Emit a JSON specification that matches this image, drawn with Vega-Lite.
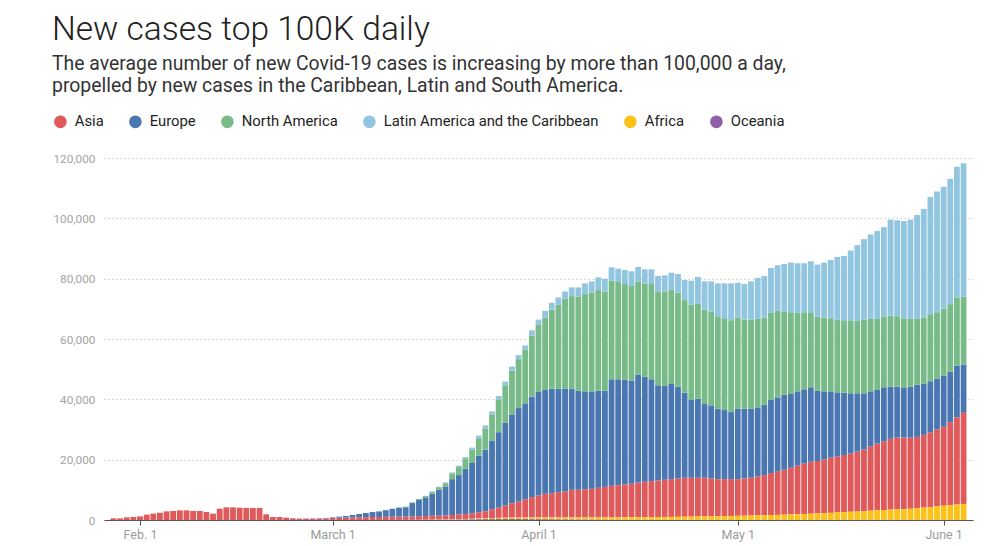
{
"$schema": "https://vega.github.io/schema/vega-lite/v6.json",
"width": 869, "height": 362,
"autosize": {"type": "none"},
"padding": {"left": 104, "top": 158, "right": 15, "bottom": 26},
"background": "white",
"title": {
 "text": "New cases top 100K daily",
 "subtitle": ["The average number of new Covid-19 cases is increasing by more than 100,000 a day,", "propelled by new cases in the Caribbean, Latin and South America."],
 "anchor": "start", "frame": "group", "dx": -52,
 "font": "Roboto", "fontSize": 33.5, "fontWeight": 300, "color": "#222222",
 "subtitleFont": "Roboto", "subtitleFontSize": 19.4, "subtitleColor": "#333333", "subtitleLineHeight": 22, "subtitlePadding": 7,
 "offset": 18
},
"data": {"format": {"parse": {"date": "date:'%Y-%m-%d'"}}, "values": [
{"date":"2020-01-28","Asia":550,"Europe":0,"North America":0,"Latin America and the Caribbean":0,"Africa":0,"Oceania":0},
{"date":"2020-01-29","Asia":550,"Europe":0,"North America":0,"Latin America and the Caribbean":0,"Africa":0,"Oceania":0},
{"date":"2020-01-30","Asia":880,"Europe":0,"North America":0,"Latin America and the Caribbean":0,"Africa":0,"Oceania":0},
{"date":"2020-01-31","Asia":1000,"Europe":0,"North America":0,"Latin America and the Caribbean":0,"Africa":0,"Oceania":0},
{"date":"2020-02-01","Asia":1200,"Europe":0,"North America":0,"Latin America and the Caribbean":0,"Africa":0,"Oceania":0},
{"date":"2020-02-02","Asia":1770,"Europe":0,"North America":0,"Latin America and the Caribbean":0,"Africa":0,"Oceania":0},
{"date":"2020-02-03","Asia":2100,"Europe":0,"North America":0,"Latin America and the Caribbean":0,"Africa":0,"Oceania":0},
{"date":"2020-02-04","Asia":2400,"Europe":0,"North America":0,"Latin America and the Caribbean":0,"Africa":0,"Oceania":0},
{"date":"2020-02-05","Asia":2870,"Europe":0,"North America":0,"Latin America and the Caribbean":0,"Africa":0,"Oceania":0},
{"date":"2020-02-06","Asia":3000,"Europe":0,"North America":0,"Latin America and the Caribbean":0,"Africa":0,"Oceania":0},
{"date":"2020-02-07","Asia":3200,"Europe":0,"North America":0,"Latin America and the Caribbean":0,"Africa":0,"Oceania":0},
{"date":"2020-02-08","Asia":3200,"Europe":0,"North America":0,"Latin America and the Caribbean":0,"Africa":0,"Oceania":0},
{"date":"2020-02-09","Asia":3000,"Europe":0,"North America":0,"Latin America and the Caribbean":0,"Africa":0,"Oceania":0},
{"date":"2020-02-10","Asia":3000,"Europe":0,"North America":0,"Latin America and the Caribbean":0,"Africa":0,"Oceania":0},
{"date":"2020-02-11","Asia":2650,"Europe":0,"North America":0,"Latin America and the Caribbean":0,"Africa":0,"Oceania":0},
{"date":"2020-02-12","Asia":2100,"Europe":0,"North America":0,"Latin America and the Caribbean":0,"Africa":0,"Oceania":0},
{"date":"2020-02-13","Asia":3760,"Europe":0,"North America":0,"Latin America and the Caribbean":0,"Africa":0,"Oceania":0},
{"date":"2020-02-14","Asia":4200,"Europe":0,"North America":0,"Latin America and the Caribbean":0,"Africa":0,"Oceania":0},
{"date":"2020-02-15","Asia":4200,"Europe":0,"North America":0,"Latin America and the Caribbean":0,"Africa":0,"Oceania":0},
{"date":"2020-02-16","Asia":4100,"Europe":0,"North America":0,"Latin America and the Caribbean":0,"Africa":0,"Oceania":0},
{"date":"2020-02-17","Asia":4000,"Europe":0,"North America":0,"Latin America and the Caribbean":0,"Africa":0,"Oceania":0},
{"date":"2020-02-18","Asia":4000,"Europe":0,"North America":0,"Latin America and the Caribbean":0,"Africa":0,"Oceania":0},
{"date":"2020-02-19","Asia":4000,"Europe":0,"North America":0,"Latin America and the Caribbean":0,"Africa":0,"Oceania":0},
{"date":"2020-02-20","Asia":1880,"Europe":0,"North America":0,"Latin America and the Caribbean":0,"Africa":0,"Oceania":0},
{"date":"2020-02-21","Asia":1000,"Europe":0,"North America":0,"Latin America and the Caribbean":0,"Africa":0,"Oceania":0},
{"date":"2020-02-22","Asia":1000,"Europe":0,"North America":0,"Latin America and the Caribbean":0,"Africa":0,"Oceania":0},
{"date":"2020-02-23","Asia":770,"Europe":0,"North America":0,"Latin America and the Caribbean":0,"Africa":0,"Oceania":0},
{"date":"2020-02-24","Asia":550,"Europe":20,"North America":0,"Latin America and the Caribbean":0,"Africa":0,"Oceania":0},
{"date":"2020-02-25","Asia":440,"Europe":40,"North America":0,"Latin America and the Caribbean":0,"Africa":0,"Oceania":0},
{"date":"2020-02-26","Asia":420,"Europe":60,"North America":0,"Latin America and the Caribbean":0,"Africa":0,"Oceania":0},
{"date":"2020-02-27","Asia":430,"Europe":80,"North America":0,"Latin America and the Caribbean":0,"Africa":0,"Oceania":0},
{"date":"2020-02-28","Asia":450,"Europe":110,"North America":0,"Latin America and the Caribbean":0,"Africa":0,"Oceania":0},
{"date":"2020-02-29","Asia":500,"Europe":150,"North America":0,"Latin America and the Caribbean":0,"Africa":0,"Oceania":0},
{"date":"2020-03-01","Asia":700,"Europe":190,"North America":0,"Latin America and the Caribbean":0,"Africa":0,"Oceania":0},
{"date":"2020-03-02","Asia":750,"Europe":360,"North America":0,"Latin America and the Caribbean":0,"Africa":0,"Oceania":0},
{"date":"2020-03-03","Asia":800,"Europe":530,"North America":0,"Latin America and the Caribbean":0,"Africa":0,"Oceania":0},
{"date":"2020-03-04","Asia":850,"Europe":810,"North America":10,"Latin America and the Caribbean":0,"Africa":0,"Oceania":0},
{"date":"2020-03-05","Asia":900,"Europe":1085,"North America":15,"Latin America and the Caribbean":0,"Africa":0,"Oceania":0},
{"date":"2020-03-06","Asia":950,"Europe":1355,"North America":25,"Latin America and the Caribbean":0,"Africa":0,"Oceania":0},
{"date":"2020-03-07","Asia":1000,"Europe":1635,"North America":35,"Latin America and the Caribbean":0,"Africa":0,"Oceania":0},
{"date":"2020-03-08","Asia":1000,"Europe":1840,"North America":50,"Latin America and the Caribbean":0,"Africa":0,"Oceania":5},
{"date":"2020-03-09","Asia":1050,"Europe":2210,"North America":70,"Latin America and the Caribbean":0,"Africa":0,"Oceania":8},
{"date":"2020-03-10","Asia":1100,"Europe":2570,"North America":100,"Latin America and the Caribbean":0,"Africa":0,"Oceania":10},
{"date":"2020-03-11","Asia":1100,"Europe":2960,"North America":140,"Latin America and the Caribbean":5,"Africa":5,"Oceania":10},
{"date":"2020-03-12","Asia":1100,"Europe":3110,"North America":190,"Latin America and the Caribbean":10,"Africa":10,"Oceania":15},
{"date":"2020-03-13","Asia":1150,"Europe":4420,"North America":250,"Latin America and the Caribbean":30,"Africa":20,"Oceania":20},
{"date":"2020-03-14","Asia":1200,"Europe":5370,"North America":330,"Latin America and the Caribbean":40,"Africa":30,"Oceania":30},
{"date":"2020-03-15","Asia":1250,"Europe":6160,"North America":450,"Latin America and the Caribbean":60,"Africa":40,"Oceania":40},
{"date":"2020-03-16","Asia":1300,"Europe":7340,"North America":600,"Latin America and the Caribbean":90,"Africa":60,"Oceania":50},
{"date":"2020-03-17","Asia":1300,"Europe":8560,"North America":890,"Latin America and the Caribbean":120,"Africa":80,"Oceania":60},
{"date":"2020-03-18","Asia":1375,"Europe":9555,"North America":1100,"Latin America and the Caribbean":230,"Africa":100,"Oceania":80},
{"date":"2020-03-19","Asia":1437,"Europe":11883,"North America":1930,"Latin America and the Caribbean":300,"Africa":130,"Oceania":100},
{"date":"2020-03-20","Asia":1600,"Europe":13000,"North America":2660,"Latin America and the Caribbean":450,"Africa":160,"Oceania":130},
{"date":"2020-03-21","Asia":1650,"Europe":15000,"North America":3440,"Latin America and the Caribbean":450,"Africa":190,"Oceania":160},
{"date":"2020-03-22","Asia":1800,"Europe":16670,"North America":4440,"Latin America and the Caribbean":670,"Africa":220,"Oceania":200},
{"date":"2020-03-23","Asia":2055,"Europe":18775,"North America":5780,"Latin America and the Caribbean":890,"Africa":260,"Oceania":240},
{"date":"2020-03-24","Asia":2310,"Europe":20440,"North America":7050,"Latin America and the Caribbean":950,"Africa":300,"Oceania":280},
{"date":"2020-03-25","Asia":2905,"Europe":22665,"North America":8780,"Latin America and the Caribbean":1000,"Africa":340,"Oceania":310},
{"date":"2020-03-26","Asia":3400,"Europe":25000,"North America":10890,"Latin America and the Caribbean":1110,"Africa":380,"Oceania":330},
{"date":"2020-03-27","Asia":4017,"Europe":27443,"North America":12440,"Latin America and the Caribbean":1230,"Africa":420,"Oceania":340},
{"date":"2020-03-28","Asia":4765,"Europe":29445,"North America":14550,"Latin America and the Caribbean":1330,"Africa":450,"Oceania":340},
{"date":"2020-03-29","Asia":5300,"Europe":31000,"North America":16220,"Latin America and the Caribbean":1330,"Africa":480,"Oceania":330},
{"date":"2020-03-30","Asia":6068,"Europe":31772,"North America":17780,"Latin America and the Caribbean":1400,"Africa":510,"Oceania":310},
{"date":"2020-03-31","Asia":6725,"Europe":33335,"North America":20220,"Latin America and the Caribbean":1770,"Africa":540,"Oceania":290},
{"date":"2020-04-01","Asia":7270,"Europe":34330,"North America":22220,"Latin America and the Caribbean":1780,"Africa":570,"Oceania":270},
{"date":"2020-04-02","Asia":7816,"Europe":34444,"North America":24000,"Latin America and the Caribbean":2220,"Africa":600,"Oceania":250},
{"date":"2020-04-03","Asia":8038,"Europe":34662,"North America":26220,"Latin America and the Caribbean":2230,"Africa":620,"Oceania":230},
{"date":"2020-04-04","Asia":8381,"Europe":34329,"North America":27780,"Latin America and the Caribbean":2440,"Africa":640,"Oceania":200},
{"date":"2020-04-05","Asia":8604,"Europe":34106,"North America":29780,"Latin America and the Caribbean":2440,"Africa":660,"Oceania":180},
{"date":"2020-04-06","Asia":9160,"Europe":33550,"North America":30670,"Latin America and the Caribbean":2880,"Africa":680,"Oceania":160},
{"date":"2020-04-07","Asia":9160,"Europe":32880,"North America":31220,"Latin America and the Caribbean":3000,"Africa":700,"Oceania":140},
{"date":"2020-04-08","Asia":9380,"Europe":32440,"North America":32220,"Latin America and the Caribbean":3560,"Africa":720,"Oceania":120},
{"date":"2020-04-09","Asia":9490,"Europe":32110,"North America":32890,"Latin America and the Caribbean":3770,"Africa":740,"Oceania":100},
{"date":"2020-04-10","Asia":9820,"Europe":32210,"North America":33340,"Latin America and the Caribbean":4220,"Africa":760,"Oceania":90},
{"date":"2020-04-11","Asia":10140,"Europe":31880,"North America":32890,"Latin America and the Caribbean":4230,"Africa":780,"Oceania":80},
{"date":"2020-04-12","Asia":10460,"Europe":35330,"North America":32670,"Latin America and the Caribbean":4440,"Africa":800,"Oceania":70},
{"date":"2020-04-13","Asia":10670,"Europe":35110,"North America":32220,"Latin America and the Caribbean":4450,"Africa":820,"Oceania":60},
{"date":"2020-04-14","Asia":10885,"Europe":34660,"North America":31780,"Latin America and the Caribbean":4660,"Africa":840,"Oceania":55},
{"date":"2020-04-15","Asia":11090,"Europe":34220,"North America":31330,"Latin America and the Caribbean":4890,"Africa":860,"Oceania":50},
{"date":"2020-04-16","Asia":11515,"Europe":35780,"North America":30880,"Latin America and the Caribbean":4780,"Africa":880,"Oceania":45},
{"date":"2020-04-17","Asia":11730,"Europe":34880,"North America":30890,"Latin America and the Caribbean":4660,"Africa":900,"Oceania":40},
{"date":"2020-04-18","Asia":11935,"Europe":33770,"North America":31560,"Latin America and the Caribbean":4880,"Africa":920,"Oceania":35},
{"date":"2020-04-19","Asia":12130,"Europe":31550,"North America":30890,"Latin America and the Caribbean":5330,"Africa":950,"Oceania":30},
{"date":"2020-04-20","Asia":12320,"Europe":31110,"North America":31330,"Latin America and the Caribbean":5330,"Africa":980,"Oceania":30},
{"date":"2020-04-21","Asia":12515,"Europe":31560,"North America":31110,"Latin America and the Caribbean":5780,"Africa":1010,"Oceania":25},
{"date":"2020-04-22","Asia":12715,"Europe":30440,"North America":31110,"Latin America and the Caribbean":6220,"Africa":1040,"Oceania":25},
{"date":"2020-04-23","Asia":12910,"Europe":28220,"North America":30660,"Latin America and the Caribbean":6670,"Africa":1070,"Oceania":20},
{"date":"2020-04-24","Asia":12880,"Europe":25770,"North America":31560,"Latin America and the Caribbean":8000,"Africa":1100,"Oceania":20},
{"date":"2020-04-25","Asia":12850,"Europe":26220,"North America":31550,"Latin America and the Caribbean":8780,"Africa":1130,"Oceania":20},
{"date":"2020-04-26","Asia":12820,"Europe":24440,"North America":31330,"Latin America and the Caribbean":9330,"Africa":1160,"Oceania":20},
{"date":"2020-04-27","Asia":12560,"Europe":24220,"North America":31100,"Latin America and the Caribbean":10000,"Africa":1200,"Oceania":20},
{"date":"2020-04-28","Asia":12290,"Europe":23330,"North America":30670,"Latin America and the Caribbean":10890,"Africa":1240,"Oceania":20},
{"date":"2020-04-29","Asia":12250,"Europe":22890,"North America":30440,"Latin America and the Caribbean":11560,"Africa":1280,"Oceania":20},
{"date":"2020-04-30","Asia":12210,"Europe":22220,"North America":30450,"Latin America and the Caribbean":12220,"Africa":1320,"Oceania":20},
{"date":"2020-05-01","Asia":12170,"Europe":23330,"North America":30230,"Latin America and the Caribbean":11550,"Africa":1360,"Oceania":20},
{"date":"2020-05-02","Asia":12360,"Europe":23100,"North America":29560,"Latin America and the Caribbean":11780,"Africa":1400,"Oceania":20},
{"date":"2020-05-03","Asia":12530,"Europe":22880,"North America":29560,"Latin America and the Caribbean":12660,"Africa":1450,"Oceania":20},
{"date":"2020-05-04","Asia":12920,"Europe":22890,"North America":29330,"Latin America and the Caribbean":13560,"Africa":1500,"Oceania":20},
{"date":"2020-05-05","Asia":13310,"Europe":23330,"North America":28890,"Latin America and the Caribbean":13770,"Africa":1560,"Oceania":20},
{"date":"2020-05-06","Asia":13910,"Europe":24220,"North America":28890,"Latin America and the Caribbean":14890,"Africa":1620,"Oceania":20},
{"date":"2020-05-07","Asia":14300,"Europe":24660,"North America":28670,"Latin America and the Caribbean":15110,"Africa":1680,"Oceania":20},
{"date":"2020-05-08","Asia":14890,"Europe":24890,"North America":27550,"Latin America and the Caribbean":15780,"Africa":1750,"Oceania":20},
{"date":"2020-05-09","Asia":15490,"Europe":24440,"North America":27110,"Latin America and the Caribbean":16450,"Africa":1820,"Oceania":20},
{"date":"2020-05-10","Asia":16080,"Europe":24660,"North America":26000,"Latin America and the Caribbean":16440,"Africa":1900,"Oceania":20},
{"date":"2020-05-11","Asia":16660,"Europe":24670,"North America":25550,"Latin America and the Caribbean":16220,"Africa":1980,"Oceania":20},
{"date":"2020-05-12","Asia":17250,"Europe":24670,"North America":24880,"Latin America and the Caribbean":16890,"Africa":2060,"Oceania":20},
{"date":"2020-05-13","Asia":17380,"Europe":23330,"North America":24450,"Latin America and the Caribbean":17330,"Africa":2150,"Oceania":20},
{"date":"2020-05-14","Asia":17730,"Europe":22660,"North America":24450,"Latin America and the Caribbean":18220,"Africa":2250,"Oceania":20},
{"date":"2020-05-15","Asia":18290,"Europe":21780,"North America":24440,"Latin America and the Caribbean":19340,"Africa":2350,"Oceania":20},
{"date":"2020-05-16","Asia":18590,"Europe":21220,"North America":24000,"Latin America and the Caribbean":20870,"Africa":2500,"Oceania":20},
{"date":"2020-05-17","Asia":18930,"Europe":20670,"North America":24000,"Latin America and the Caribbean":21330,"Africa":2600,"Oceania":20},
{"date":"2020-05-18","Asia":19280,"Europe":20000,"North America":24220,"Latin America and the Caribbean":23110,"Africa":2700,"Oceania":20},
{"date":"2020-05-19","Asia":19840,"Europe":19340,"North America":24000,"Latin America and the Caribbean":25100,"Africa":2800,"Oceania":20},
{"date":"2020-05-20","Asia":20410,"Europe":18670,"North America":24440,"Latin America and the Caribbean":26660,"Africa":2900,"Oceania":20},
{"date":"2020-05-21","Asia":21370,"Europe":18220,"North America":24000,"Latin America and the Caribbean":28000,"Africa":3050,"Oceania":20},
{"date":"2020-05-22","Asia":22110,"Europe":17780,"North America":23770,"Latin America and the Caribbean":28890,"Africa":3200,"Oceania":20},
{"date":"2020-05-23","Asia":22680,"Europe":18000,"North America":23330,"Latin America and the Caribbean":29770,"Africa":3300,"Oceania":20},
{"date":"2020-05-24","Asia":23460,"Europe":17340,"North America":23550,"Latin America and the Caribbean":31780,"Africa":3400,"Oceania":20},
{"date":"2020-05-25","Asia":23810,"Europe":16890,"North America":23330,"Latin America and the Caribbean":31780,"Africa":3500,"Oceania":20},
{"date":"2020-05-26","Asia":23760,"Europe":16440,"North America":23110,"Latin America and the Caribbean":32220,"Africa":3550,"Oceania":20},
{"date":"2020-05-27","Asia":23610,"Europe":16890,"North America":22440,"Latin America and the Caribbean":32890,"Africa":3700,"Oceania":20},
{"date":"2020-05-28","Asia":23630,"Europe":17330,"North America":21780,"Latin America and the Caribbean":34440,"Africa":3900,"Oceania":20},
{"date":"2020-05-29","Asia":24100,"Europe":16890,"North America":22000,"Latin America and the Caribbean":35990,"Africa":4100,"Oceania":20},
{"date":"2020-05-30","Asia":24790,"Europe":16890,"North America":22220,"Latin America and the Caribbean":38880,"Africa":4300,"Oceania":20},
{"date":"2020-05-31","Asia":25480,"Europe":16880,"North America":22000,"Latin America and the Caribbean":40000,"Africa":4500,"Oceania":20},
{"date":"2020-06-01","Asia":26160,"Europe":16890,"North America":22230,"Latin America and the Caribbean":40440,"Africa":4700,"Oceania":20},
{"date":"2020-06-02","Asia":27520,"Europe":16670,"North America":22440,"Latin America and the Caribbean":41550,"Africa":4900,"Oceania":20},
{"date":"2020-06-03","Asia":28880,"Europe":17110,"North America":22660,"Latin America and the Caribbean":43330,"Africa":5100,"Oceania":20},
{"date":"2020-06-04","Asia":30230,"Europe":16000,"North America":22450,"Latin America and the Caribbean":44220,"Africa":5300,"Oceania":20}
]},
"transform": [
 {"fold": ["Asia","Europe","North America","Latin America and the Caribbean","Africa","Oceania"], "as": ["region","cases"]},
 {"lookup": "region", "from": {"data": {"values": [
   {"region":"Oceania","stack_rank":0},
   {"region":"Africa","stack_rank":1},
   {"region":"Asia","stack_rank":2},
   {"region":"Europe","stack_rank":3},
   {"region":"North America","stack_rank":4},
   {"region":"Latin America and the Caribbean","stack_rank":5}
 ]}, "key": "region", "fields": ["stack_rank"]}}
],
"mark": {"type": "bar", "width": 5.8},
"encoding": {
 "x": {"field": "date", "type": "temporal",
  "scale": {"domain": [{"year":2020,"month":1,"date":27,"hours":8}, {"year":2020,"month":6,"date":4,"hours":16}]},
  "axis": {"title": null, "grid": false,
   "values": [{"year":2020,"month":2,"date":1},{"year":2020,"month":3,"date":1},{"year":2020,"month":4,"date":1},{"year":2020,"month":5,"date":1},{"year":2020,"month":6,"date":1}],
   "labelExpr": "['Jan. ','Feb. ','March ','April ','May ','June '][month(datum.value)] + date(datum.value)",
   "domainColor": "#555555", "domainWidth": 1, "tickColor": "#555555", "tickSize": 5,
   "labelColor": "#9b9b9b", "labelFont": "Roboto", "labelFontSize": 12.5, "labelPadding": 3}},
 "y": {"field": "cases", "type": "quantitative", "stack": "zero",
  "scale": {"domain": [0,120000], "nice": false},
  "axis": {"title": null, "values": [0,20000,40000,60000,80000,100000,120000], "format": ",.0f",
   "domain": false, "ticks": false, "labelPadding": 9, "labelColor": "#a3a3a3", "labelFont": "Roboto", "labelFontSize": 11.8,
   "gridColor": "#cccccc", "gridDash": [1.5, 2.5], "gridWidth": 1}},
 "order": {"field": "stack_rank", "type": "quantitative", "sort": "ascending"},
 "color": {"field": "region", "type": "nominal",
  "scale": {"domain": ["Asia","Europe","North America","Latin America and the Caribbean","Africa","Oceania"],
   "range": ["#e05a5b","#4a76b2","#78bb88","#92c5e0","#fdc21a","#8e5ea8"]},
  "legend": {"orient": "none", "legendX": -51, "legendY": -44, "direction": "horizontal", "title": null,
   "symbolType": "circle", "symbolSize": 160, "symbolStrokeWidth": 0, "symbolOpacity": 1,
   "labelFont": "Roboto", "labelFontSize": 14.8, "labelColor": "#222222", "labelOffset": 7, "labelLimit": 400, "columnPadding": 24, "padding": 0}}
},
"config": {"view": {"stroke": null}, "font": "Roboto"}
}
